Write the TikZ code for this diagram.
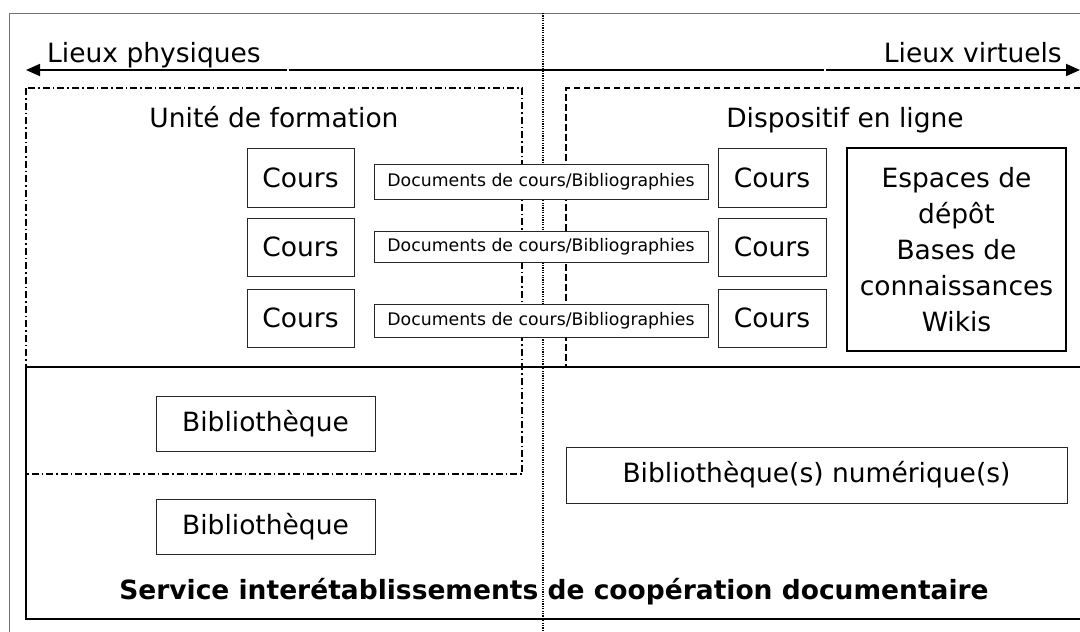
\documentclass[tikz,border=0pt]{standalone}
\usepackage{fontspec}
\setmainfont{DejaVu Sans}
\usetikzlibrary{arrows.meta}
\begin{document}
\begin{tikzpicture}[x=1pt,y=-1pt,
  bigfont/.style={font=\fontsize{26.5}{36}\selectfont},
  box/.style={draw=black!85, fill=white, line width=0.9pt, inner sep=0pt, bigfont},
  docbox/.style={draw=black!85, fill=white, line width=0.9pt, inner sep=0pt, font=\fontsize{17.3}{20}\selectfont,
     minimum width=334pt},
  label/.style={inner sep=0pt, bigfont},
  dashdotline/.style={line width=1.6pt, dash pattern=on 7pt off 3pt on 1.5pt off 3pt},
  dashline/.style={line width=1.3pt, dash pattern=on 6.5pt off 3.5pt},
  dotline/.style={line width=1.2pt, dash pattern=on 1.2pt off 1.2pt},
  arrowline/.style={line width=1.8pt, -{Triangle[length=14pt,width=12pt]}},
  frameline/.style={line width=1pt, draw=black!55}
]
\useasboundingbox (0,0) rectangle (1080,632);

% outer frame
\draw[frameline] (9,632) -- (9,13) -- (1080,13);

% dotted separator
\coordinate (dotTop) at (543,13);
\coordinate (dotBot) at (543,632);
\draw[dotline] (dotTop) -- (dotBot);

% top arrows
\coordinate (aL) at (26,70);
\coordinate (aL2) at (287,70);
\coordinate (aM1) at (289,70);
\coordinate (aM2) at (824,70);
\coordinate (aR1) at (826,70);
\coordinate (aR) at (1080,70);
\draw[arrowline] (aL2) -- (aL);
\draw[line width=1.8pt] (aM1) -- (aM2);
\draw[arrowline] (aR1) -- (aR);
\node[label, anchor=base west] (lphys) at (47,62) {Lieux physiques};
\node[label, anchor=base east] (lvirt) at (1062,62) {Lieux virtuels};

% Unité de formation (dash-dot)
\draw[dashdotline] (26,88) rectangle (522,474);
\node[label, anchor=base] (uf) at (274,127) {Unité de formation};

% Dispositif en ligne (dashed)
\draw[dashline] (1080,88) -- (566,88) -- (566,366);
\node[label, anchor=base] (dl) at (845,127) {Dispositif en ligne};

% SICD box
\draw[line width=1.6pt] (1080,367) -- (26,367) -- (26,619) -- (1080,619);
\node[inner sep=0pt, anchor=base, font=\fontsize{26.5}{30}\selectfont\bfseries] (sicd) at (554,599)
  {Service interétablissements de coopération documentaire};

% Cours boxes left
\node[box, minimum width=107pt, minimum height=59pt] (cl1) at (300.5,177.5) {Cours};
\node[box, minimum width=107pt, minimum height=58pt] (cl2) at (300.5,247) {Cours};
\node[box, minimum width=107pt, minimum height=58pt] (cl3) at (300.5,318) {Cours};

% Documents boxes
\node[docbox, minimum height=35pt] (d1) at (541,182) {Documents de cours/Bibliographies};
\node[docbox, minimum height=31pt] (d2) at (541,246.5) {Documents de cours/Bibliographies};
\node[docbox, minimum height=33pt] (d3) at (541,321) {Documents de cours/Bibliographies};

% Cours boxes right
\node[box, minimum width=108pt, minimum height=59pt] (cr1) at (772,177.5) {Cours};
\node[box, minimum width=108pt, minimum height=58pt] (cr2) at (772,247) {Cours};
\node[box, minimum width=108pt, minimum height=58pt] (cr3) at (772,318) {Cours};

% Espaces box
\node[box, line width=1.6pt, draw=black, minimum width=219pt, minimum height=203pt, align=center] (esp) at (956.5,249.5)
  {Espaces de\\dépôt\\Bases de\\connaissances\\Wikis};

% Bibliothèques
\node[box, minimum width=219pt, minimum height=55pt] (bib1) at (265.5,424) {Bibliothèque};
\node[box, minimum width=219pt, minimum height=55pt] (bib2) at (265.5,527) {Bibliothèque};
\node[box, minimum width=501pt, minimum height=56pt] (bibn) at (816.5,475) {Bibliothèque(s) numérique(s)};
\end{tikzpicture}
\end{document}
